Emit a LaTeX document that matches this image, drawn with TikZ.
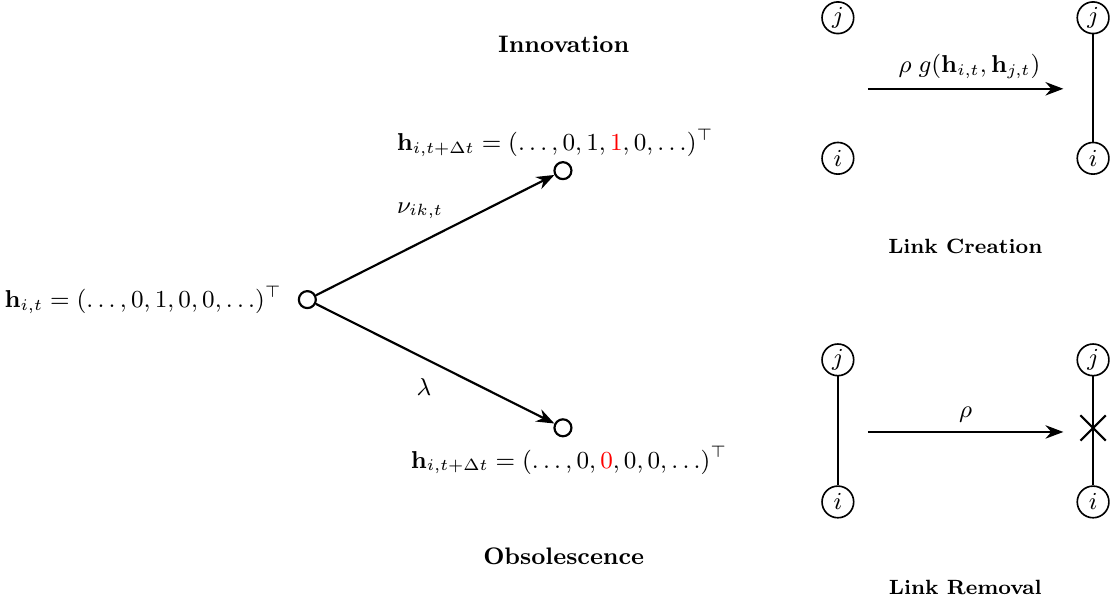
\documentclass[tikz,border=0pt]{standalone}
\usepackage{amsmath}
\usetikzlibrary{arrows.meta,positioning,shapes.misc}
\tikzset{
  state/.style={circle,draw,line width=0.8pt,minimum size=0.22cm,inner sep=0pt},
  agent/.style={circle,draw,semithick,minimum size=0.41cm,inner sep=0pt,font=\small},
  trans/.style={-{Stealth},thick},
  link/.style={semithick},
  formula/.style={font=\fontsize{8.6}{10}\selectfont},
  title/.style={font=\fontsize{8.8}{10}\selectfont\bfseries},
  caption/.style={font=\fontsize{7.6}{9}\selectfont\bfseries},
}
\begin{document}
\begin{tikzpicture}[x=1cm,y=1cm]
\path[use as bounding box] (0,0) rectangle (14.4,7.86);
% innovation and obsolescence of the state vector
\node[state] (h0) at (3.98,3.98) {};
\node[state] (hup) at (7.29,5.65) {};
\node[state] (hdn) at (7.29,2.32) {};
\node[formula,left=0.08cm of h0] (t0) {$\mathbf{h}_{i,t} = (\ldots,0,1,0,0,\ldots)^\top$};
\node[formula] (tup) at (7.19,6.01) {$\mathbf{h}_{i,t+\Delta t} = (\ldots,0,1,{\color{red}1},0,\ldots)^\top$};
\node[formula] (tdn) at (7.37,1.90) {$\mathbf{h}_{i,t+\Delta t} = (\ldots,0,{\color{red}0},0,0,\ldots)^\top$};
\draw[trans] (h0) -- (hup);
\draw[trans] (h0) -- (hdn);
\node[formula] (nu) at (5.44,5.13) {$\nu_{ik,t}$};
\node[formula] (lam) at (5.49,2.85) {$\lambda$};
\node[title] (innov) at (7.30,7.28) {Innovation};
\node[title] (obsol) at (7.30,0.65) {Obsolescence};
% link creation
\node[agent] (j1) at (10.85,7.63) {$j$};
\node[agent] (i1) at (10.85,5.81) {$i$};
\node[agent] (j2) at (14.155,7.63) {$j$};
\node[agent] (i2) at (14.155,5.81) {$i$};
\draw[link] (j2) -- (i2);
\coordinate (c1) at (11.24,6.71);
\coordinate (c2) at (13.77,6.71);
\draw[trans] (c1) -- node[above,formula,xshift=0.05cm] (rg) {$\rho\; g(\mathbf{h}_{i,t},\mathbf{h}_{j,t})$} (c2);
\node[caption] (create) at (12.50,4.675) {Link Creation};
% link removal
\node[agent] (j3) at (10.85,3.20) {$j$};
\node[agent] (i3) at (10.85,1.36) {$i$};
\node[agent] (j4) at (14.155,3.20) {$j$};
\node[agent] (i4) at (14.155,1.36) {$i$};
\draw[link] (j3) -- (i3);
\draw[link] (j4) -- (i4);
\node[cross out,draw,thick,minimum size=0.3cm,inner sep=0pt] (cut) at (14.155,2.318) {};
\coordinate (c3) at (11.24,2.266);
\coordinate (c4) at (13.77,2.266);
\draw[trans] (c3) -- node[above,formula] (r) {$\rho$} (c4);
\node[caption] (remove) at (12.50,0.246) {Link Removal};
\end{tikzpicture}
\end{document}
